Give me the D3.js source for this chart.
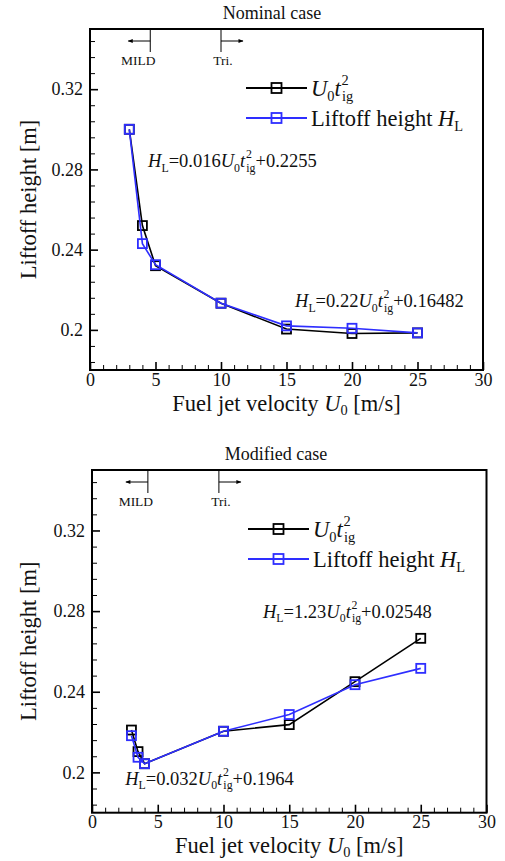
<!doctype html>
<html lang="en">
<head>
  <meta charset="utf-8">
  <title>Liftoff height vs fuel jet velocity</title>
  <script src="https://d3js.org/d3.v7.min.js"></script>
  <style>
    body { margin: 0; background: white; }
    svg, svg text, svg tspan { font-family: "Liberation Serif", "DejaVu Serif", serif; }
    svg text { fill: #111; }
    .frame { fill: none; stroke: black; stroke-width: 2; }
    .major line { stroke: black; stroke-width: 1.6; }
    .minor line { stroke: black; stroke-width: 1; }
    .series { fill: none; stroke-width: 1.6; }
    .marker { fill: none; stroke-width: 1.8; }
  </style>
</head>
<body>
  <div id="chart"></div>
  <script>
    // data
    const velocityNominal = [3, 4, 5, 10, 15, 20, 25];
    const u0tigNominal = [0.300, 0.252, 0.232, 0.2133, 0.2004, 0.1982, 0.1985];
    const liftoffNominal = [0.300, 0.243, 0.2325, 0.2133, 0.2020, 0.2008, 0.1985];

    const velocityModified = [3, 3.5, 4, 10, 15, 20, 25];
    const u0tigModified = [0.221, 0.2103, 0.2043, 0.2204, 0.2237, 0.2450, 0.2665];
    const liftoffModified = [0.2182, 0.2075, 0.2043, 0.2204, 0.2287, 0.2435, 0.2516];

    // axis ticks
    const xTicks = [0, 5, 10, 15, 20, 25, 30];
    const yTicks = [0.2, 0.24, 0.28, 0.32];
    const yTickLabels = ['0.2', '0.24', '0.28', '0.32'];
    const xDomain = [0, 30];
    const yDomain = [0.18, 0.35];

    // regime boundaries (MILD / Tri.) and fitted-line labels, per panel
    const regimeNominal = [4.6, 10];
    const regimeModified = [4.25, 9.65];
    const fitsNominal = [
      { u: 4.43, v: 0.2813, a: '0.016', b: '0.2255' },
      { u: 15.65, v: 0.2114, a: '0.22', b: '0.16482' }
    ];
    const fitsModified = [
      { u: 13.0, v: 0.2768, a: '1.23', b: '0.02548' },
      { u: 2.52, v: 0.1939, a: '0.032', b: '0.1964' }
    ];

    const seriesNames = ['u0tig', 'liftoff'];
    const seriesColors = { u0tig: '#000000', liftoff: '#2e2eff' };
    const serif = '"Liberation Serif", "DejaVu Serif", serif';

    const svg = d3.select('#chart').append('svg')
      .attr('width', 505)
      .attr('height', 861)
      .attr('font-family', serif);

    // arrow head for the regime markers
    svg.append('defs').append('marker')
      .attr('id', 'arrow')
      .attr('viewBox', '0 0 10 10')
      .attr('refX', 9).attr('refY', 5)
      .attr('markerWidth', 7).attr('markerHeight', 5)
      .attr('orient', 'auto')
      .append('path')
      .attr('d', 'M0,1L10,5L0,9Z')
      .attr('fill', 'black');

    // text with italic / sub / superscript parts
    function richText(g, x, y, parts, size, subShift = 0.26) {
      const t = g.append('text')
        .attr('x', x).attr('y', y)
        .style('font-family', serif)
        .style('font-size', size + 'px');
      let cur = 0;
      parts.forEach(p => {
        const shift = p.sub ? subShift * size : p.sup ? -0.48 * size : 0;
        const ts = t.append('tspan').text(p.s).attr('dy', shift - cur);
        cur = shift;
        if (p.sub || p.sup) ts.style('font-size', (0.64 * size) + 'px');
        if (p.it) ts.style('font-style', 'italic');
        if (p.dx) ts.attr('dx', p.dx * size);
      });
      return t;
    }

    const u0tigParts = [
      { s: 'U', it: true }, { s: '0', sub: true },
      { s: 't', it: true }, { s: '2', sup: true, dx: 0.04 }, { s: 'ig', sub: true, dx: -0.3 }
    ];

    function fitParts(a, b) {
      return [{ s: 'H', it: true }, { s: 'L', sub: true }, { s: '=' + a }]
        .concat(u0tigParts)
        .concat([{ s: '+' + b }]);
    }

    function drawPanel(cfg) {
      const g = svg.append('g');

      const x = d3.scaleLinear().domain(xDomain).range([cfg.left, cfg.right]);
      const y = d3.scaleLinear().domain(yDomain).range([cfg.bottom, cfg.top]);

      // minor ticks
      const xMinor = d3.range(1, 30, 1).filter(d => d % 5 !== 0);
      const yMinor = d3.range(0.184, 0.35, 0.008).filter(d => !yTicks.some(t => Math.abs(t - d) < 1e-6));

      g.append('g')
        .attr('class', 'minor')
        .attr('transform', `translate(0,${cfg.bottom})`)
        .call(d3.axisBottom(x).tickValues(xMinor).tickSize(-5).tickFormat(''))
        .call(a => a.select('.domain').remove());

      g.append('g')
        .attr('class', 'minor')
        .attr('transform', `translate(${cfg.left},0)`)
        .call(d3.axisLeft(y).tickValues(yMinor).tickSize(-5).tickFormat(''))
        .call(a => a.select('.domain').remove());

      // major ticks and labels
      g.append('g')
        .attr('class', 'major')
        .attr('transform', `translate(0,${cfg.bottom})`)
        .call(d3.axisBottom(x).tickValues(xTicks).tickSize(-8).tickPadding(3))
        .attr('font-family', serif)
        .call(a => a.select('.domain').remove())
        .selectAll('text')
        .style('font-size', '18px');

      g.append('g')
        .attr('class', 'major')
        .attr('transform', `translate(${cfg.left},0)`)
        .call(d3.axisLeft(y).tickValues(yTicks).tickSize(-8).tickPadding(7)
          .tickFormat((d, i) => yTickLabels[i]))
        .attr('font-family', serif)
        .call(a => a.select('.domain').remove())
        .selectAll('text')
        .style('font-size', '18px');

      g.append('rect')
        .attr('class', 'frame')
        .attr('x', cfg.left).attr('y', cfg.top)
        .attr('width', cfg.right - cfg.left)
        .attr('height', cfg.bottom - cfg.top);

      // title
      g.append('text')
        .attr('x', cfg.titleX).attr('y', cfg.top - 10)
        .attr('text-anchor', 'middle')
        .style('font-size', '18px')
        .text(cfg.title);

      // axis titles
      const xt = richText(g, (cfg.left + cfg.right) / 2, cfg.bottom + cfg.xTitleGap, [
        { s: 'Fuel jet velocity ' }, { s: 'U', it: true }, { s: '0', sub: true }, { s: ' [m/s]' }
      ], 22.5, 0.18);
      xt.attr('text-anchor', 'middle');

      g.append('text')
        .attr('transform', `translate(36,${(cfg.top + cfg.bottom) / 2}) rotate(-90)`)
        .attr('text-anchor', 'middle')
        .style('font-size', '22.5px')
        .text('Liftoff height [m]');

      // regime markers
      const regimes = [
        { u: cfg.regime[0], dir: -1, label: 'MILD', off: -12 },
        { u: cfg.regime[1], dir: 1, label: 'Tri.', off: 2 }
      ];
      regimes.forEach(r => {
        const px = x(r.u);
        g.append('line')
          .attr('x1', px).attr('x2', px)
          .attr('y1', cfg.top).attr('y2', cfg.top + 23)
          .attr('stroke', 'black').attr('stroke-width', 1);
        g.append('line')
          .attr('x1', px).attr('x2', px + r.dir * 22)
          .attr('y1', cfg.top + 12).attr('y2', cfg.top + 12)
          .attr('stroke', 'black').attr('stroke-width', 1)
          .attr('marker-end', 'url(#arrow)');
        g.append('text')
          .attr('x', px + r.off).attr('y', cfg.top + 36)
          .attr('text-anchor', 'middle')
          .style('font-size', '13.5px')
          .text(r.label);
      });

      // series lines and square markers
      const line = d3.line().x(d => x(d.u)).y(d => y(d.v));
      seriesNames.forEach(name => {
        const pts = cfg.velocity.map((u, i) => ({ u: u, v: cfg.values[name][i] }));
        g.append('path')
          .datum(pts)
          .attr('class', 'series')
          .attr('stroke', seriesColors[name])
          .attr('d', line);
        g.selectAll(null)
          .data(pts)
          .join('rect')
          .attr('class', 'marker')
          .attr('stroke', seriesColors[name])
          .attr('x', d => x(d.u) - 4.5)
          .attr('y', d => y(d.v) - 4.5)
          .attr('width', 9).attr('height', 9);
      });

      // fitted-line labels
      cfg.fits.forEach(f => {
        richText(g, x(f.u), y(f.v), fitParts(f.a, f.b), 18.5);
      });

      // legend
      const legendItems = [
        { name: 'u0tig', parts: u0tigParts },
        { name: 'liftoff', parts: [{ s: 'Liftoff height ' }, { s: 'H', it: true }, { s: 'L', sub: true }] }
      ];
      legendItems.forEach((item, i) => {
        const ly = cfg.top + 59 + i * 30;
        const lx = cfg.left + 156;
        g.append('line')
          .attr('x1', lx).attr('x2', lx + 61)
          .attr('y1', ly).attr('y2', ly)
          .attr('stroke', seriesColors[item.name]).attr('stroke-width', 1.8);
        g.append('rect')
          .attr('class', 'marker')
          .attr('stroke', seriesColors[item.name])
          .attr('x', lx + 30.5 - 5).attr('y', ly - 5)
          .attr('width', 10).attr('height', 10);
        richText(g, lx + 65, ly + 7.5, item.parts, 22.5);
      });
    }

    drawPanel({
      left: 90, right: 483, top: 29, bottom: 370, titleX: 272, xTitleGap: 41,
      title: 'Nominal case',
      velocity: velocityNominal,
      values: { u0tig: u0tigNominal, liftoff: liftoffNominal },
      regime: regimeNominal,
      fits: fitsNominal
    });

    drawPanel({
      left: 92, right: 486.5, top: 470, bottom: 812.7, titleX: 276, xTitleGap: 39.8,
      title: 'Modified case',
      velocity: velocityModified,
      values: { u0tig: u0tigModified, liftoff: liftoffModified },
      regime: regimeModified,
      fits: fitsModified
    });
  </script>
</body>
</html>
